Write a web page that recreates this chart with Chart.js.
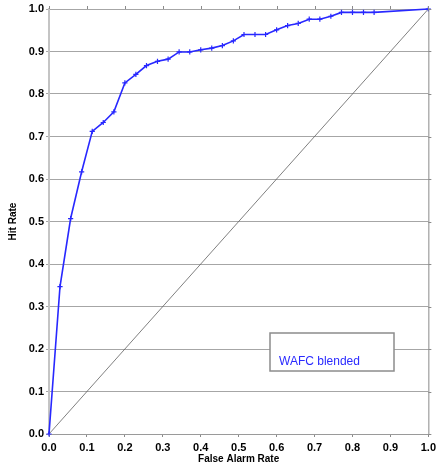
<!DOCTYPE html>
<html>

<head>
    <script src="https://cdn.jsdelivr.net/npm/chart.js@4.4.1/dist/chart.umd.min.js"></script>
    <style>
        html, body { margin: 0; padding: 0; background: #fff; }
    </style>
</head>

<body>
    <div style="width: 440px; height: 470px">
        <canvas id="roc"></canvas>
    </div>

    <script>
        // ROC points
        const falseAlarmRate = [0, 0.029, 0.057, 0.086, 0.114, 0.143, 0.171, 0.2, 0.229, 0.257, 0.286, 0.314,
            0.343, 0.371, 0.4, 0.429, 0.457, 0.486, 0.514, 0.543, 0.571, 0.6, 0.629, 0.657,
            0.686, 0.714, 0.743, 0.771, 0.8, 0.829, 0.857, 1.0]
        const hitRate = [0, 0.347, 0.507, 0.617, 0.712, 0.733, 0.758, 0.826, 0.846, 0.867, 0.877, 0.882,
            0.899, 0.899, 0.904, 0.908, 0.914, 0.925, 0.940, 0.940, 0.940, 0.951, 0.961, 0.966,
            0.976, 0.976, 0.983, 0.992, 0.992, 0.992, 0.992, 1.0]
        const diagX = [0, 1]
        const diagY = [0, 1]
        const seriesName = "WAFC blended"
        const xTitle = "False Alarm Rate"
        const yTitle = "Hit Rate"

        const rocData = falseAlarmRate.map((x, i) => ({ x: x, y: hitRate[i] }))
        const diagData = diagX.map((x, i) => ({ x: x, y: diagY[i] }))

        // ticks on top/right edges, right border and the boxed label
        const frame = {
            id: 'frame',
            afterDraw(chart) {
                const ctx = chart.ctx
                const a = chart.chartArea
                const xs = chart.scales.x
                const ys = chart.scales.y
                ctx.save()
                ctx.strokeStyle = '#8a8a8a'
                ctx.lineWidth = 1
                ctx.beginPath()
                ctx.moveTo(a.right + 0.5, a.top)
                ctx.lineTo(a.right + 0.5, a.bottom)
                for (const t of xs.ticks) {
                    const px = Math.round(xs.getPixelForValue(t.value)) + 0.5
                    ctx.moveTo(px, a.top)
                    ctx.lineTo(px, a.top - 3)
                }
                for (const t of ys.ticks) {
                    const py = Math.round(ys.getPixelForValue(t.value)) + 0.5
                    ctx.moveTo(a.right, py)
                    ctx.lineTo(a.right + 3, py)
                }
                ctx.stroke()

                ctx.fillStyle = '#fff'
                ctx.fillRect(270, 333, 124, 38)
                ctx.strokeStyle = '#8c8c8c'
                ctx.lineWidth = 1.5
                ctx.strokeRect(270, 333, 124, 38)
                ctx.fillStyle = '#2a2aff'
                ctx.font = '12px "Liberation Sans", Arial, sans-serif'
                ctx.textBaseline = 'alphabetic'
                ctx.fillText(chart.data.datasets[0].label, 279, 365)
                ctx.restore()
            }
        }

        new Chart(document.getElementById('roc'), {
            type: 'line',
            data: {
                datasets: [
                    {
                        label: seriesName,
                        data: rocData,
                        borderColor: '#2828ff',
                        backgroundColor: '#2828ff',
                        borderWidth: 1.6,
                        pointStyle: 'cross',
                        pointRadius: 2.6,
                        pointBorderWidth: 1.2,
                        tension: 0,
                        clip: false
                    },
                    {
                        label: 'diagonal',
                        data: diagData,
                        borderColor: '#606060',
                        borderWidth: 0.8,
                        pointRadius: 0,
                        tension: 0,
                        clip: false
                    }
                ]
            },
            options: {
                responsive: true,
                maintainAspectRatio: false,
                animation: false,
                layout: { padding: { top: 9, right: 9, left: 0, bottom: 0 } },
                plugins: {
                    legend: { display: false },
                    tooltip: { enabled: false }
                },
                scales: {
                    x: {
                        type: 'linear',
                        min: 0,
                        max: 1,
                        ticks: {
                            stepSize: 0.1,
                            color: '#000',
                            padding: 4,
                            maxRotation: 0,
                            font: { family: '"Liberation Sans", Arial, sans-serif', size: 11, weight: 'bold' },
                            callback: v => v.toFixed(1)
                        },
                        grid: { drawOnChartArea: false, drawTicks: true, tickLength: 3, color: '#8a8a8a' },
                        border: { color: '#9a9a9a', width: 1 },
                        title: {
                            display: true,
                            text: xTitle,
                            color: '#000',
                            padding: { top: 0, bottom: 5 },
                            font: { family: '"Liberation Sans", Arial, sans-serif', size: 10, weight: 'bold' }
                        },
                        afterFit: s => { s.height = 36 }
                    },
                    y: {
                        min: 0,
                        max: 1,
                        ticks: {
                            stepSize: 0.1,
                            color: '#000',
                            padding: 2,
                            font: { family: '"Liberation Sans", Arial, sans-serif', size: 11, weight: 'bold' },
                            callback: v => v.toFixed(1)
                        },
                        grid: { color: '#a6a6a6', tickLength: 3, lineWidth: 1 },
                        border: { color: '#c4c4c4', width: 2 },
                        title: {
                            display: true,
                            text: yTitle,
                            color: '#000',
                            padding: { top: 7, bottom: 0 },
                            font: { family: '"Liberation Sans", Arial, sans-serif', size: 10, weight: 'bold' }
                        },
                        afterFit: s => { s.width = 49 }
                    }
                }
            },
            plugins: [frame]
        })
    </script>

</body>

</html>
